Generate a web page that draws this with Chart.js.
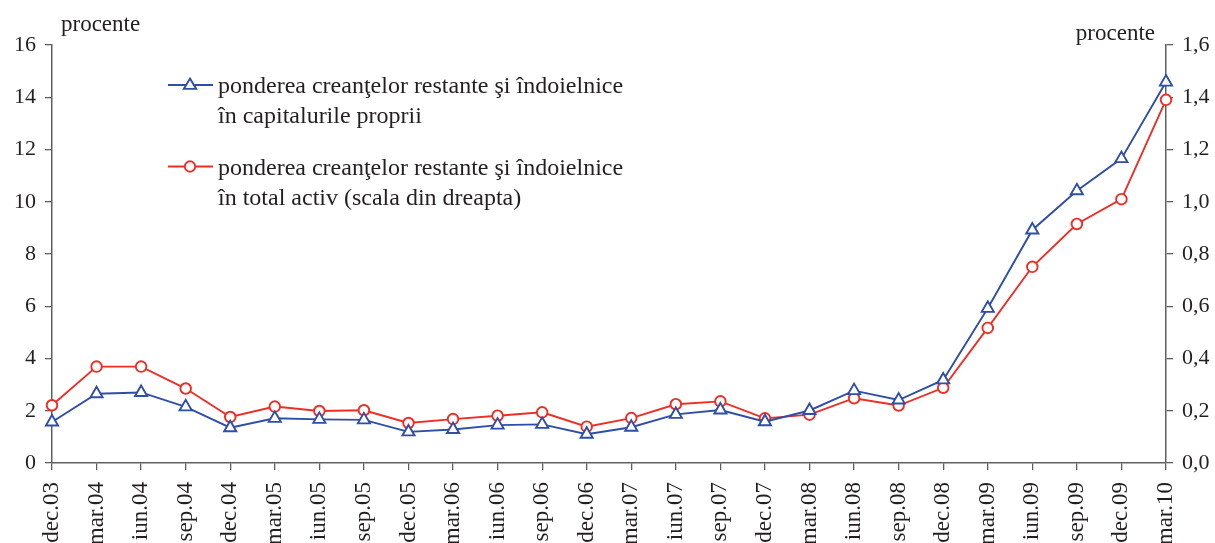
<!DOCTYPE html>
<html>
<head>
<meta charset="utf-8">
<script src="https://cdn.jsdelivr.net/npm/chart.js@4.4.1/dist/chart.umd.min.js"></script>
<style>
  html, body { margin: 0; padding: 0; background: #fff; overflow: hidden; width: 1215px; height: 543px; }
  #wrap { width: 1215px; height: 600px; }
</style>
</head>
<body>
<div id="wrap"><canvas id="c" width="1215" height="600"></canvas></div>
<script>
// Quarterly observations, dec.03 – mar.10
const categories = ['dec.03','mar.04','iun.04','sep.04','dec.04','mar.05','iun.05','sep.05','dec.05',
  'mar.06','iun.06','sep.06','dec.06','mar.07','iun.07','sep.07','dec.07','mar.08','iun.08','sep.08',
  'dec.08','mar.09','iun.09','sep.09','dec.09','mar.10'];

// Share of overdue and doubtful claims in own funds (left scale, %)
const shareInOwnFunds = [1.57, 2.65, 2.70, 2.15, 1.35, 1.71, 1.67, 1.65, 1.19, 1.28, 1.45, 1.48, 1.10,
  1.37, 1.86, 2.03, 1.58, 2.01, 2.77, 2.41, 3.18, 5.92, 8.92, 10.42, 11.65, 14.58];

// Share of overdue and doubtful claims in total assets (right scale, %)
const shareInTotalAssets = [0.221, 0.369, 0.369, 0.285, 0.176, 0.216, 0.199, 0.202, 0.153, 0.168, 0.181,
  0.194, 0.139, 0.172, 0.225, 0.236, 0.171, 0.185, 0.248, 0.220, 0.288, 0.517, 0.751, 0.915, 1.010, 1.390];

const leftAxisTicks = { min: 0, max: 16, step: 2 };
const rightAxisTicks = { min: 0, max: 1.6, step: 0.2 };

const legendLabels = [
  ['ponderea creanţelor restante şi îndoielnice', 'în capitalurile proprii'],
  ['ponderea creanţelor restante şi îndoielnice', 'în total activ (scala din dreapta)']
];
const unitLabel = 'procente';

const BLUE = '#2f4ea6';
const RED = '#ee2d25';
const TEXT = '#231f20';
const AXIS = '#606060';
const FONT = 'Liberation Serif, Times New Roman, serif';

const labelsPlugin = {
  id: 'sideText',
  afterDraw(chart) {
    const ctx = chart.ctx;
    ctx.save();
    ctx.fillStyle = TEXT;
    ctx.font = '23px ' + FONT;
    ctx.textBaseline = 'alphabetic';
    ctx.textAlign = 'left';
    ctx.fillText(unitLabel, 61, 31);
    ctx.textAlign = 'right';
    ctx.fillText(unitLabel, 1155, 40);

    // legend
    ctx.font = '24px ' + FONT;
    const rows = [
      { color: BLUE, style: 'triangle', y: 85, base: 93, lines: legendLabels[0] },
      { color: RED, style: 'circle', y: 166.5, base: 175, lines: legendLabels[1] }
    ];
    rows.forEach(r => {
      ctx.strokeStyle = r.color;
      ctx.lineWidth = 1.9;
      ctx.beginPath();
      ctx.moveTo(168, r.y);
      ctx.lineTo(213, r.y);
      ctx.stroke();
      ctx.fillStyle = '#fff';
      ctx.beginPath();
      if (r.style === 'circle') {
        ctx.arc(190, r.y, 5.2, 0, Math.PI * 2);
      } else {
        const s = 6.5;
        ctx.moveTo(190, r.y - s);
        ctx.lineTo(190 + s * 0.95, r.y + s * 0.6);
        ctx.lineTo(190 - s * 0.95, r.y + s * 0.6);
        ctx.closePath();
      }
      ctx.fill();
      ctx.stroke();
      ctx.fillStyle = TEXT;
      ctx.textAlign = 'left';
      ctx.fillText(r.lines[0], 218, r.base);
      ctx.fillText(r.lines[1], 218, r.base + 29.5);
    });
    ctx.restore();
  }
};

const axisGrid = { display: true, drawOnChartArea: false, drawTicks: true, tickLength: 7, color: AXIS, lineWidth: 1.3 };
const axisBorder = { display: true, color: AXIS, width: 1.5 };
const tickFont = { family: FONT, size: 22 };

new Chart(document.getElementById('c'), {
  type: 'line',
  data: {
    labels: categories,
    datasets: [
      {
        label: legendLabels[0].join(' '),
        data: shareInOwnFunds,
        yAxisID: 'y',
        borderColor: BLUE,
        backgroundColor: '#fff',
        borderWidth: 1.9,
        pointStyle: 'triangle',
        pointRadius: 7,
        pointBorderWidth: 1.9,
        pointBackgroundColor: '#fff',
        pointBorderColor: BLUE,
        tension: 0
      },
      {
        label: legendLabels[1].join(' '),
        data: shareInTotalAssets,
        yAxisID: 'y1',
        borderColor: RED,
        backgroundColor: '#fff',
        borderWidth: 1.9,
        pointStyle: 'circle',
        pointRadius: 5.3,
        pointBorderWidth: 1.9,
        pointBackgroundColor: '#fff',
        pointBorderColor: RED,
        tension: 0
      }
    ]
  },
  options: {
    responsive: false,
    animation: false,
    layout: { padding: { top: 45, left: 0, right: 0, bottom: 0 } },
    plugins: { legend: { display: false }, tooltip: { enabled: false } },
    scales: {
      x: {
        type: 'category',
        offset: false,
        grid: axisGrid,
        border: axisBorder,
        ticks: { autoSkip: false, minRotation: 90, maxRotation: 90, padding: 12, color: TEXT,
          font: { family: FONT, size: 23 } },
        afterFit(axis) { axis.height = 137; }
      },
      y: {
        position: 'left',
        min: leftAxisTicks.min,
        max: leftAxisTicks.max,
        grid: axisGrid,
        border: axisBorder,
        ticks: { stepSize: leftAxisTicks.step, padding: 9, color: TEXT, font: tickFont },
        afterFit(axis) { axis.width = 52; }
      },
      y1: {
        position: 'right',
        min: rightAxisTicks.min,
        max: rightAxisTicks.max,
        grid: axisGrid,
        border: axisBorder,
        ticks: {
          stepSize: rightAxisTicks.step, padding: 9, color: TEXT, font: tickFont,
          callback: v => v.toFixed(1).replace('.', ',')
        },
        afterFit(axis) { axis.width = 49; }
      }
    }
  },
  plugins: [labelsPlugin]
});
</script>
</body>
</html>
